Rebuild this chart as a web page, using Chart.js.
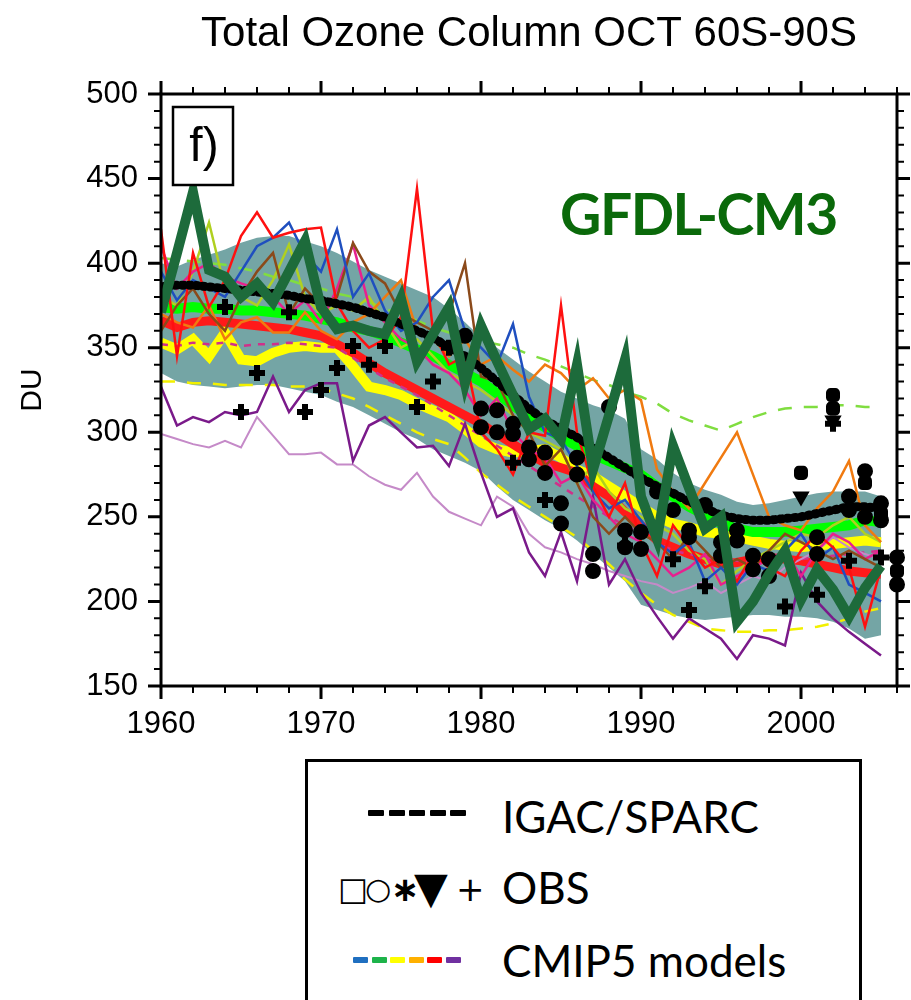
<!DOCTYPE html>
<html>
<head>
<meta charset="utf-8">
<script src="https://cdn.jsdelivr.net/npm/chart.js@4.4.1/dist/chart.umd.min.js"></script>
<style>
  html, body { margin: 0; padding: 0; background: #fff; }
  body { width: 911px; height: 1000px; overflow: hidden; position: relative; }
  #c { position: absolute; left: 0; top: 0; }
  .legend-box { position: absolute; left: 305px; top: 759px; width: 557px; height: 280px;
    box-sizing: border-box; border: 3px solid #000; background: #fff; }
  .swatches { position: absolute; display: flex; }
  .swatches span { display: block; height: 6px; border-radius: 1px; }
  .lg-text { position: absolute; left: 502px; font-family: Lato, "Open Sans", sans-serif;
    font-size: 44px; line-height: 44px; color: #000; white-space: nowrap; }
  .sym { position: absolute; line-height: 1; color: #000; font-family: "DejaVu Sans", sans-serif; }
</style>
</head>
<body>
<canvas id="c" width="911" height="1000"></canvas>

<div class="legend-box"></div>
<div class="swatches" style="left:368px;top:810px;gap:4.5px">
  <span style="width:16px;background:#000"></span><span style="width:16px;background:#000"></span>
  <span style="width:16px;background:#000"></span><span style="width:16px;background:#000"></span>
  <span style="width:16px;background:#000"></span>
</div>
<div class="lg-text" style="top:794px">IGAC/SPARC</div>

<div class="sym" style="left:338px;top:873px;font-size:32px">□</div>
<div class="sym" style="left:365px;top:874px;font-size:30px">○</div>
<div class="sym" style="left:391px;top:872px;font-size:34px;font-weight:bold">∗</div>
<div class="sym" style="left:414px;top:866px;font-size:44px">▼</div>
<div class="sym" style="left:456px;top:872px;font-size:34px">+</div>
<div class="lg-text" style="top:865px">OBS</div>

<div class="swatches" style="left:353px;top:957px;gap:3.6px">
  <span style="width:15px;background:#1f6fc0"></span><span style="width:15px;background:#1db34a"></span>
  <span style="width:15px;background:#ffff00"></span><span style="width:15px;background:#ffb000"></span>
  <span style="width:15px;background:#ff0000"></span><span style="width:15px;background:#7030a0"></span>
</div>
<div class="lg-text" style="top:938px">CMIP5 models</div>

<script>
// years 1960-2005
const years = [1960,1961,1962,1963,1964,1965,1966,1967,1968,1969,
               1970,1971,1972,1973,1974,1975,1976,1977,1978,1979,
               1980,1981,1982,1983,1984,1985,1986,1987,1988,1989,
               1990,1991,1992,1993,1994,1995,1996,1997,1998,1999,
               2000,2001,2002,2003,2004,2005];

// GFDL-CM3 (thick dark green)
const gfdl = [371,406,442,396,392,380,388,377,395,413, 374,361,363,360,358,379,342,358,374,329,
              363,342,322,302,308,296,340,278,310,343, 262,237,292,267,243,250,188,200,216,230,
              201,219,207,191,208,221];
// IGAC/SPARC reference (black dotted)
const igac = [386,387,387,386,385,384,383,382,381,379, 378,376,374,371,368,364,360,356,350,345,
              338,330,322,314,307,302,297,291,285,279, 273,268,264,259,255,251,249,248,248,249,
              250,252,254,256,256,255];
// model spread envelope
const bandHi = [400,398,402,405,408,412,415,416,416,413, 410,406,401,396,392,388,384,380,373,365,
                356,350,343,336,330,324,320,316,313,308, 290,284,276,270,266,263,259,257,258,260,
                262,264,265,265,265,262];
const bandLo = [335,330,328,327,326,327,328,328,326,324, 322,318,315,310,305,300,296,290,286,282,
                277,268,260,254,248,243,236,228,220,212, 198,195,192,190,189,190,191,192,192,191,
                191,190,188,184,178,180];
// thick model lines
const yellowThick = [353,349,355,345,359,343,342,347,350,351, 350,350,339,327,325,322,317,313,309,302,
                     294,290,288,289,290,285,278,274,268,262, 256,250,246,244,241,240,238,236,234,233,
                     232,233,234,235,236,235];
const limeThick = [374,373,374,373,373,372,372,371,370,369, 367,365,362,360,357,353,349,345,340,335,
                   330,323,316,309,303,297,292,287,283,279, 275,268,262,256,251,246,243,241,241,241,
                   242,243,244,245,248,247];
const redThick = [366,362,365,366,365,364,363,362,361,359, 357,352,347,341,335,330,325,320,315,310,
                  305,299,293,287,282,279,276,268,262,253, 245,236,232,228,225,222,223,225,226,225,
                  224,222,220,218,217,216];
// thin model lines
const redThin = [420,345,406,374,390,416,430,415,418,420, 421,376,360,350,355,368,444,360,340,345,
                 300,290,275,300,298,375,300,268,250,270, 235,215,245,232,220,225,212,228,220,215,
                 230,240,232,220,185,220];
const blueThin = [395,378,390,385,380,395,410,415,424,405, 395,420,380,394,372,360,365,380,390,360,
                  350,340,364,321,300,296,280,265,255,260, 248,235,228,235,212,220,210,222,218,230,
                  240,225,232,210,205,200];
const brownThin = [360,375,385,370,360,380,395,406,370,385, 375,380,412,395,388,370,365,360,370,400,
                   333,330,310,300,280,290,270,250,240,250, 240,235,225,240,230,220,225,220,230,240,
                   235,230,225,230,225,220];
const orangeThin = [370,365,362,375,355,365,368,359,359,371, 360,355,365,370,380,390,360,355,345,355,
                    340,345,337,330,340,335,325,332,320,325, 319,278,265,255,270,285,300,275,250,245,
                    242,255,265,283,245,235];
const magentaThin = [410,385,395,400,392,388,385,380,370,378, 365,385,411,375,365,355,350,340,335,325,
                     310,320,300,290,285,270,275,260,250,240, 235,225,215,220,228,210,215,220,225,230,
                     215,230,240,235,225,230];
const ygThin = [380,375,395,424,385,380,375,390,411,380, 370,375,372,380,365,350,355,345,335,330,
                325,318,310,300,295,290,270,280,265,255, 250,245,240,230,225,210,218,225,230,235,
                240,238,245,250,240,235];
const purpleThin = [327,304,309,306,312,310,312,333,312,325, 329,329,283,304,309,300,291,292,280,305,
                    276,250,255,229,215,241,212,262,210,225, 205,191,178,190,184,178,166,180,178,174,
                    217,200,190,182,175,168];
const lavenderThin = [299,296,293,291,295,291,309,298,287,287, 288,281,281,274,269,266,276,262,253,249,
                      245,262,256,240,232,229,225,222,218,215, 212,210,205,208,212,205,210,215,212,220,
                      225,230,238,232,228,225];
const greenDashed = [403,402,401,400,399,397,395,392,390,387, 385,382,380,377,373,370,366,362,359,356,
                     354,352,350,346,343,339,335,331,328,324, 321,317,311,307,304,301,305,309,312,314,
                     315,315,316,316,315,315];
const yellowDashed = [330,330,329,329,328,328,328,328,327,327, 326,323,320,315,310,305,300,296,293,285,
                      276,269,262,256,250,244,238,230,222,213, 205,198,192,188,184,183,182,182,183,183,
                      184,185,187,190,194,196];
const magentaDashed = [352,351,353,352,353,351,352,352,353,352, 351,350,344,338,332,327,322,316,310,304,
                       298,292,286,280,274,268,262,256,250,245, 240,235,230,228,226,225,224,223,223,224,
                       225,226,227,228,229,230];

// observations
const obsPlusYears  = [1964,1965,1966,1968,1969,1970,1971,1972,1973,1974,1976,1977,1978,1982,1984,1989,1992,1993,1994,1999,2001,2002,2003,2005];
const obsPlusValues = [374,312,335,371,312,325,338,351,340,351,315,330,350,282,260,233,225,195,209,197,204,305,224,226];
const obsCircleYears  = [1979,1980,1981,1982,1983,1984,1985,1986,1987,1988,1989,1990,1991,1992,1993,1994,1995,1996,1997,1998,2001,2003,2004,2005,2006];
const obsCircleValues = [357,314,313,305,291,288,258,285,228,315,242,241,265,254,242,257,235,242,227,225,238,262,277,258,226];
const obsStarYears  = [1980,1981,1982,1983,1984,1985,1986,1987,1989,1990,1993,1995,1996,1997,1998,2001,2003,2004,2005,2006];
const obsStarValues = [303,300,299,284,276,246,275,218,232,231,238,227,236,219,215,228,254,250,248,210];
const obsSquareYears  = [2000,2002,2002,2004,2005,2006];
const obsSquareValues = [276,322,314,270,252,218];
const obsTriYears  = [2000,2002];
const obsTriValues = [262,307];

const xy = (xs, ys) => xs.map((x, i) => ({ x: x, y: ys[i] }));

function modelLine(values, color, width, dash, order) {
  return {
    data: xy(years, values),
    borderColor: color,
    borderWidth: width,
    borderDash: dash || [],
    pointRadius: 0,
    fill: false,
    tension: 0,
    order: order
  };
}

function obsPoints(xs, ys, style, radius, extra) {
  return Object.assign({
    type: 'scatter',
    data: xy(xs, ys),
    pointStyle: style,
    pointRadius: radius,
    backgroundColor: '#000',
    borderColor: '#000',
    borderWidth: 2,
    showLine: false,
    clip: false,
    order: 1
  }, extra || {});
}

const frame = {
  id: 'frame',
  afterDraw(chart) {
    const { ctx, chartArea: a } = chart;
    const x = chart.scales.x, y = chart.scales.y;
    ctx.save();
    ctx.strokeStyle = '#000';
    ctx.lineWidth = 3;
    ctx.strokeRect(a.left, a.top, a.right - a.left, a.bottom - a.top);

    x.ticks.forEach(t => {
      const px = x.getPixelForValue(t.value);
      const major = t.value % 10 === 0;
      const len = major ? 13 : 7;
      ctx.lineWidth = major ? 3 : 2;
      ctx.beginPath();
      ctx.moveTo(px, a.bottom); ctx.lineTo(px, a.bottom + len);
      ctx.moveTo(px, a.top); ctx.lineTo(px, a.top - len);
      ctx.stroke();
    });
    y.ticks.forEach(t => {
      const py = y.getPixelForValue(t.value);
      const major = t.value % 50 === 0;
      const len = major ? 13 : 7;
      ctx.lineWidth = major ? 3 : 2;
      ctx.beginPath();
      ctx.moveTo(a.left, py); ctx.lineTo(a.left - len, py);
      ctx.moveTo(a.right, py); ctx.lineTo(a.right + len, py);
      ctx.stroke();
    });

    // title
    ctx.fillStyle = '#000';
    ctx.textAlign = 'center';
    ctx.textBaseline = 'alphabetic';
    ctx.font = '42px "Liberation Sans", Arial, sans-serif';
    ctx.fillText('Total Ozone Column OCT 60S-90S', (a.left + a.right) / 2, 46);

    // panel tag
    ctx.fillStyle = '#fff';
    ctx.fillRect(a.left + 12, a.top + 13, 60, 78);
    ctx.lineWidth = 2.5;
    ctx.strokeRect(a.left + 12, a.top + 13, 60, 78);
    ctx.fillStyle = '#000';
    ctx.font = '48px "Liberation Sans", Arial, sans-serif';
    ctx.fillText('f)', a.left + 43, a.top + 67);

    // model name
    ctx.fillStyle = '#0a690a';
    ctx.textAlign = 'left';
    ctx.font = 'bold 57px Lato, "Open Sans", sans-serif';
    ctx.letterSpacing = '-1.5px';
    ctx.fillText('GFDL-CM3', 560, 235);
    ctx.restore();
  }
};

new Chart(document.getElementById('c'), {
  type: 'line',
  data: {
    datasets: [
      // lower order = drawn on top
      modelLine(gfdl, '#1d6b3b', 10, null, 0),
      obsPoints(obsPlusYears, obsPlusValues, 'cross', 8, { borderWidth: 6 }),
      obsPoints(obsCircleYears, obsCircleValues, 'circle', 7),
      obsPoints(obsStarYears, obsStarValues, 'circle', 7),
      obsPoints(obsSquareYears, obsSquareValues, 'rectRounded', 7),
      obsPoints(obsTriYears, obsTriValues, 'triangle', 8, { rotation: 180 }),
      Object.assign(modelLine(igac, '#000', 9, [2, 5], 2), { borderCapStyle: 'round' }),
      modelLine(redThin, '#ff1010', 2.5, null, 4),
      modelLine(blueThin, '#1f4fbf', 2.5, null, 4),
      modelLine(brownThin, '#8b4a1a', 2.5, null, 4),
      modelLine(orangeThin, '#f07a10', 2.5, null, 4),
      modelLine(magentaThin, '#e8208f', 2.5, null, 4),
      modelLine(ygThin, '#b0d020', 2.5, null, 4),
      modelLine(purpleThin, '#7a1a8a', 2.5, null, 4),
      modelLine(lavenderThin, '#c58ac8', 2, null, 4),
      modelLine(greenDashed, '#80dd40', 2.5, [14, 12], 4),
      modelLine(yellowDashed, '#f2f000', 2.5, [14, 12], 4),
      modelLine(magentaDashed, '#d0308a', 2.5, [7, 7], 4),
      modelLine(limeThick, '#00ff00', 10, null, 6),
      modelLine(redThick, '#ff1a1a', 9, null, 7),
      modelLine(yellowThick, '#ffff00', 10, null, 7),
      {
        data: xy(years, bandHi), borderColor: 'rgba(0,0,0,0)', borderWidth: 0,
        pointRadius: 0, fill: '+1', backgroundColor: '#74a5a5', order: 10
      },
      {
        data: xy(years, bandLo), borderColor: 'rgba(0,0,0,0)', borderWidth: 0,
        pointRadius: 0, fill: false, order: 10
      }
    ]
  },
  options: {
    responsive: false,
    animation: false,
    layout: { padding: { top: 94, right: 9, bottom: 254, left: 0 } },
    plugins: { legend: { display: false }, tooltip: { enabled: false }, title: { display: false } },
    scales: {
      x: {
        type: 'linear', min: 1960, max: 2006,
        grid: { display: false }, border: { display: false },
        afterFit: s => { s.height = 60; },
        ticks: {
          stepSize: 2, autoSkip: false, maxRotation: 0, padding: 12,
          color: '#000', font: { family: '"Liberation Sans", Arial', size: 31 },
          callback: v => (v % 10 === 0 ? String(v) : '')
        }
      },
      y: {
        min: 150, max: 500,
        grid: { display: false }, border: { display: false },
        afterFit: s => { s.width = 161; },
        title: {
          display: true, text: 'DU', color: '#000',
          font: { family: '"Liberation Sans", Arial', size: 30 },
          padding: { top: 15, bottom: 0 }
        },
        ticks: {
          stepSize: 10, autoSkip: false, padding: 15,
          color: '#000', font: { family: '"Liberation Sans", Arial', size: 31 },
          callback: v => (v % 50 === 0 ? String(v) : '')
        }
      }
    }
  },
  plugins: [frame]
});
</script>
</body>
</html>
